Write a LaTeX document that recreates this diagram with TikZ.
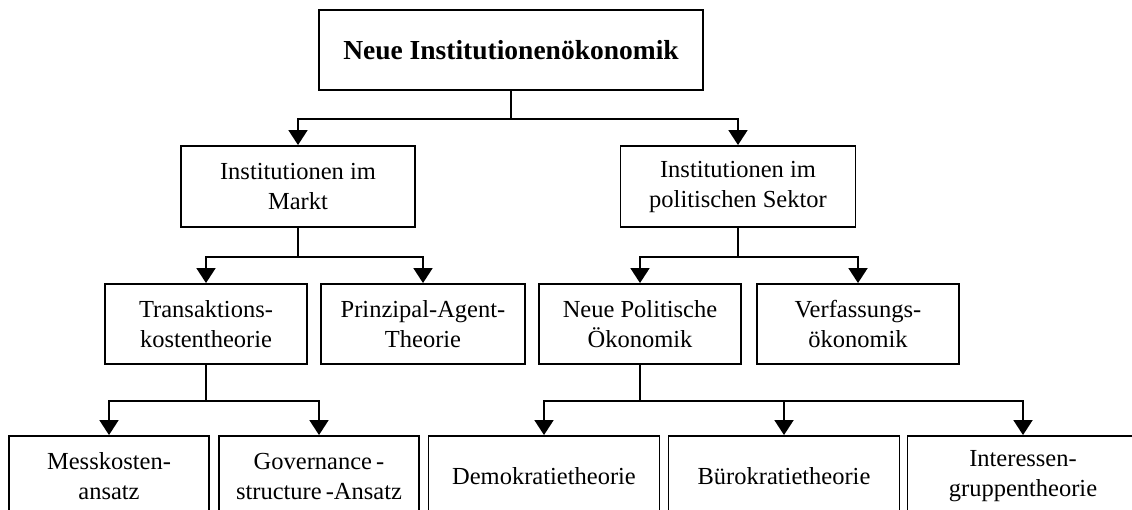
\documentclass[tikz,border=0pt]{standalone}
\usepackage{fontspec}
\setmainfont{Liberation Serif}
\usetikzlibrary{arrows.meta,calc}
\begin{document}
\begin{tikzpicture}[x=1pt,y=-1pt,
  box/.style={draw,line width=1.9pt,inner sep=0pt,align=center,
    minimum height=81pt,font=\fontsize{24.5}{30}\selectfont},
  link/.style={line width=1.9pt},
  arr/.style={link,-{Triangle[width=19pt,length=15pt]}}]
\useasboundingbox (0,0) rectangle (1132,510);
\begin{scope}
\clip (0,0) rectangle (1132,510);
% root
\node[box,minimum width=384pt,minimum height=80pt,
  font=\fontsize{27.5}{32}\selectfont\bfseries] (nie) at (511,50) {Neue Institutionenökonomik};
% second level
\node[box,minimum width=234pt] (ma) at (298,186.5) {Institutionen im\\Markt};
\node[box,minimum width=235pt] (po) at (738,186.5) {Institutionen im\\politischen Sektor};
% third level
\node[box,minimum width=202pt,minimum height=80pt] (tk) at (206,324) {Transaktions-\\kostentheorie};
\node[box,minimum width=204pt,minimum height=80pt] (pa) at (423,324) {Prinzipal-Agent-\\Theorie};
\node[box,minimum width=202pt,minimum height=80pt] (np) at (640,324) {Neue Politische\\Ökonomik};
\node[box,minimum width=202pt,minimum height=80pt] (vo) at (858,324) {Verfassungs-\\ökonomik};
% fourth level
\node[box,minimum width=200pt] (mk) at (109,476.5) {Messkosten-\\ansatz};
\node[box,minimum width=200pt] (gs) at (319,476.5) {Governance\,-\\structure\,-Ansatz};
\node[box,minimum width=231pt] (dt) at (544,476.5) {Demokratietheorie};
\node[box,minimum width=231pt] (bt) at (784,476.5) {Bürokratietheorie};
\node[box,minimum width=231pt] (ig) at (1023,476.5) {Interessen-\\gruppentheorie};
% branching points
\coordinate (j1) at ($(nie.south)+(0,28)$);
\coordinate (j2) at ($(ma.south)+(0,29)$);
\coordinate (j3) at ($(po.south)+(0,29)$);
\coordinate (j4) at ($(tk.south)+(0,36)$);
\coordinate (j5) at ($(np.south)+(0,36)$);
% connectors
\draw[link] (nie.south) -- (j1);
\draw[arr] (j1) -| (ma.north);
\draw[arr] (j1) -| (po.north);
\draw[link] (ma.south) -- (j2);
\draw[arr] (j2) -| (tk.north);
\draw[arr] (j2) -| (pa.north);
\draw[link] (po.south) -- (j3);
\draw[arr] (j3) -| (np.north);
\draw[arr] (j3) -| (vo.north);
\draw[link] (tk.south) -- (j4);
\draw[arr] (j4) -| (mk.north);
\draw[arr] (j4) -| (gs.north);
\draw[link] (np.south) -- (j5);
\draw[arr] (j5) -| (dt.north);
\draw[arr] (j5) -| (bt.north);
\draw[arr] (j5) -| (ig.north);
\end{scope}
\end{tikzpicture}
\end{document}
